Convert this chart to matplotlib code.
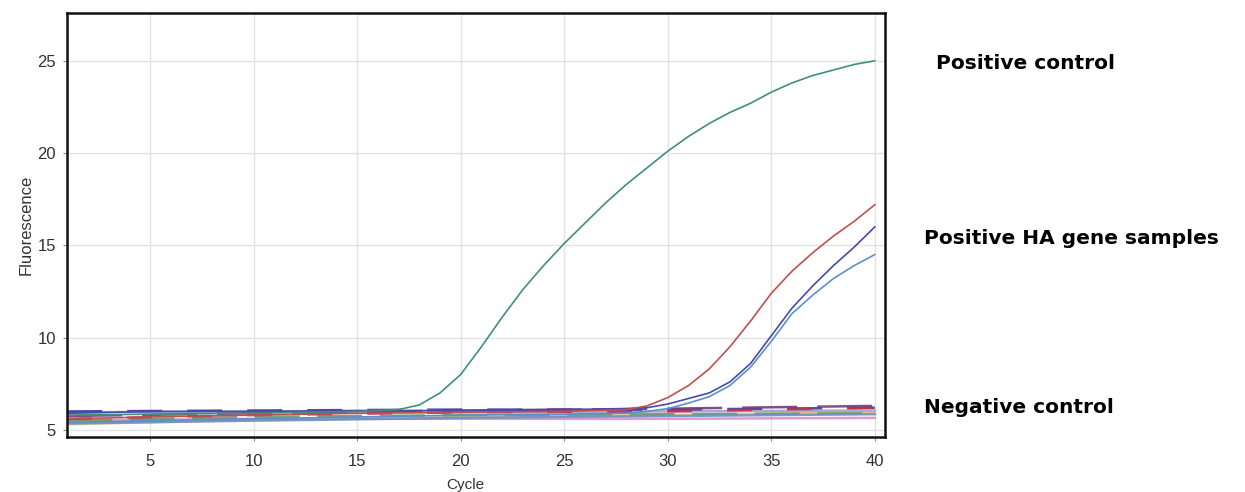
import numpy as np
import matplotlib.pyplot as plt

plt.rcParams['font.family'] = ['Liberation Sans', 'DejaVu Sans']

# positive control (amplifies around cycle 18)
pc_cycles = [1, 5, 10, 15, 17, 18, 19, 20, 21, 22, 23, 24, 25, 26, 27, 28,
             29, 30, 31, 32, 33, 34, 35, 36, 37, 38, 39, 40]
pc_values = [5.8, 5.85, 5.9, 6.0, 6.1, 6.35, 7.0, 8.0, 9.5, 11.1, 12.6, 13.9,
             15.1, 16.2, 17.3, 18.3, 19.2, 20.1, 20.9, 21.6, 22.2, 22.7,
             23.3, 23.8, 24.2, 24.5, 24.8, 25.0]

# positive HA gene samples
ha_cycles = [1, 5, 10, 15, 20, 25, 28, 29, 30, 31, 32, 33, 34, 35, 36, 37,
             38, 39, 40]
ha_red = [5.6, 5.7, 5.8, 5.9, 5.95, 6.0, 6.1, 6.3, 6.75, 7.4, 8.3, 9.5,
          10.9, 12.4, 13.6, 14.6, 15.5, 16.3, 17.2]
ha_navy = [5.9, 6.0, 6.0, 6.05, 6.05, 6.1, 6.15, 6.2, 6.4, 6.7, 7.0, 7.6,
           8.6, 10.1, 11.6, 12.8, 13.9, 14.9, 16.0]
ha_blue = [5.4, 5.5, 5.6, 5.7, 5.8, 5.85, 5.9, 6.0, 6.15, 6.45, 6.8, 7.4,
           8.4, 9.8, 11.3, 12.3, 13.2, 13.9, 14.5]

# negative control / baseline traces
base_cycles = [1, 10, 20, 30, 40]
base_values = {
    "#d9c27a": [5.3, 5.55, 5.7, 5.8, 5.95],
    "#d890d0": [5.5, 5.6, 5.6, 5.6, 5.65],
    "#6a9a6a": [5.5, 5.7, 5.8, 5.85, 5.9],
    "#7090c0": [5.35, 5.5, 5.65, 5.75, 5.85],
    "#a0a0c8": [5.95, 6.0, 5.95, 6.0, 6.05],
    "#3a3aa8": [6.0, 6.05, 6.1, 6.1, 6.2],
    "#c0304a": [5.6, 5.8, 5.95, 6.0, 6.2],
    "#7a3a7a": [5.75, 5.9, 6.05, 6.15, 6.3],
}
base_dashes = [None, None, (18, 7), None, None, (14, 10), (10, 14), (22, 8)]

fig = plt.figure(figsize=(12.45, 4.92), dpi=100)
ax = fig.add_axes([0.054, 0.112, 0.657, 0.862])

for (col, vals), d in zip(base_values.items(), base_dashes):
    ln, = ax.plot(base_cycles, vals, color=col, lw=1.8, alpha=0.9)
    if d is not None:
        ln.set_dashes(d)

ax.plot(ha_cycles, ha_blue, color="#5a8fd0", lw=1.2)
ax.plot(ha_cycles, ha_navy, color="#4a4aa8", lw=1.2)
ax.plot(ha_cycles, ha_red, color="#c05050", lw=1.2)
ax.plot(pc_cycles, pc_values, color="#3f8f7f", lw=1.2)

ax.set_xlim(1, 40.5)
ax.set_ylim(4.62, 27.6)
ax.set_xticks([5, 10, 15, 20, 25, 30, 35, 40])
ax.set_yticks([5, 10, 15, 20, 25])
ax.grid(True, color="#e2e2e2", lw=1)
ax.set_axisbelow(True)
ax.tick_params(length=3, color="#888888", labelcolor="#333333", labelsize=12)
ax.tick_params(axis="x", pad=9)
ax.tick_params(axis="y", pad=5)
for s in ax.spines.values():
    s.set_linewidth(1.8)
    s.set_color("#111111")

ax.set_ylabel("Fluorescence", fontsize=12, color="#333333", labelpad=3)
fig.text(465 / 1245, 0.014, "Cycle", fontsize=11, color="#333333",
         ha="center", va="center")

lab = dict(fontsize=14.5, fontweight="bold", va="center",
           family="DejaVu Sans")
fig.text(0.752, 0.87, "Positive control", **lab)
fig.text(0.742, 0.516, "Positive HA gene samples", **lab)
fig.text(0.742, 0.171, "Negative control", **lab)

fig.savefig("out.png", dpi=100)
